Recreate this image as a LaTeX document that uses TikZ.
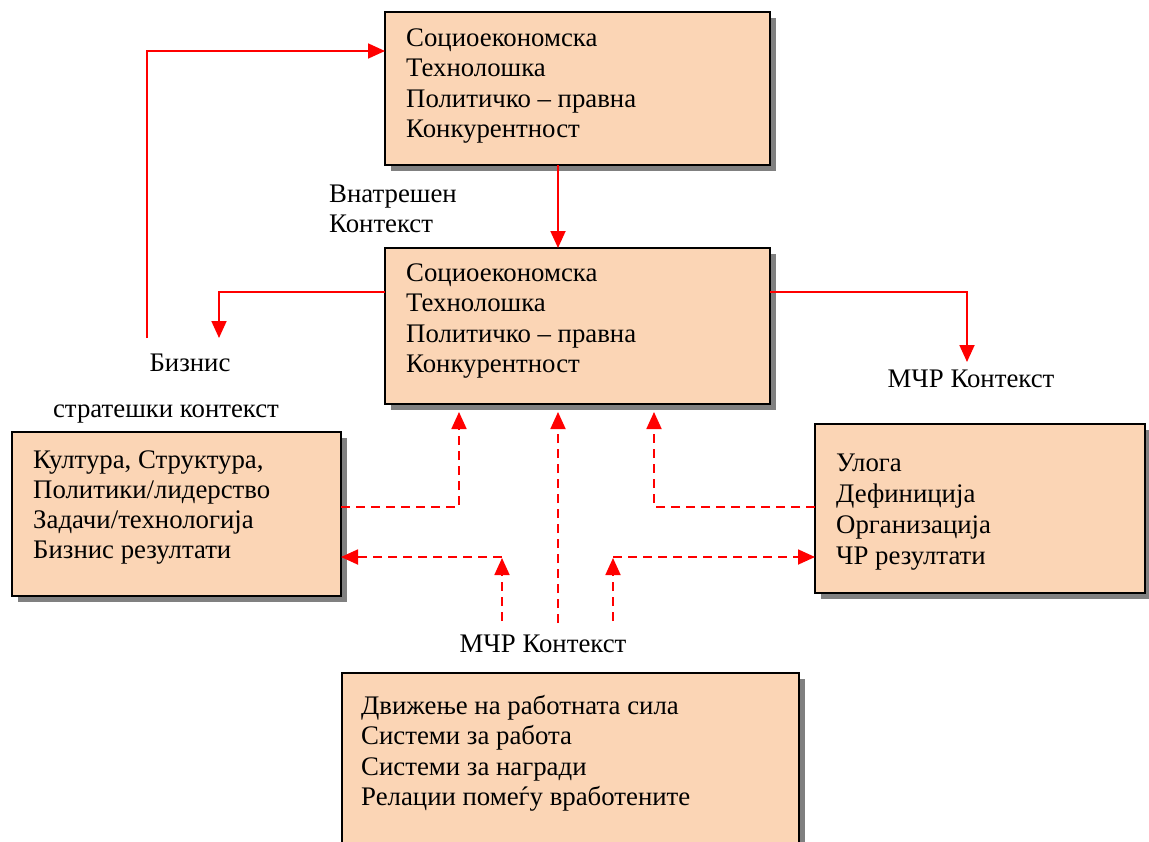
\documentclass[tikz,border=0pt]{standalone}
\usepackage{fontspec}
\setmainfont{Liberation Serif}
\usetikzlibrary{arrows.meta,shadows}
\definecolor{boxfill}{RGB}{251,213,181}
% stacked lines: the baseline of the whole block is the baseline of its first line
\newcommand\txtlines[2][30.5pt]{\vtop{\baselineskip=#1\lineskiplimit=-100pt\lineskip=0pt\halign{##\hfil\cr#2\crcr}}}
\tikzset{
  box/.style={draw=black, line width=2pt, fill=boxfill, inner sep=0pt, outer sep=0pt,
    anchor=north west,
    drop shadow={shadow xshift=6pt, shadow yshift=-6pt, fill=black!50, opacity=1}},
  txt/.style={inner sep=0pt, anchor=base west, font=\fontsize{26.8}{30.5}\selectfont},
  lbl/.style={inner sep=0pt, anchor=base, font=\fontsize{26.8}{30.5}\selectfont},
  link/.style={red, line width=1.8pt, -{Triangle[length=17pt,width=15pt]}},
  dlink/.style={link, dash pattern=on 9pt off 6pt}
}
\begin{document}
\begin{tikzpicture}[x=1pt,y=-1pt]
\useasboundingbox (0,0) rectangle (1149,841);
\clip (0,0) rectangle (1149,841);

% boxes
\node[box, minimum width=385pt, minimum height=153pt] (top) at (385,12) {};
\node[box, minimum width=385pt, minimum height=156pt] (mid) at (385,248) {};
\node[box, minimum width=329pt, minimum height=164pt] (lbox) at (12,432) {};
\node[box, minimum width=330pt, minimum height=169pt] (rbox) at (815,424) {};
\node[box, minimum width=457pt, minimum height=220pt] (bbox) at (342,673) {};

% box contents
\node[txt] (toptxt) at (406,46) {\txtlines{Социоекономска\cr Технолошка\cr Политичко – правна\cr Конкурентност}};
\node[txt] (midtxt) at (406,281) {\txtlines{Социоекономска\cr Технолошка\cr Политичко – правна\cr Конкурентност}};
\node[txt] (ltxt) at (33,468) {\txtlines[30pt]{Култура, Структура,\cr Политики/лидерство\cr Задачи/технологија\cr Бизнис резултати}};
\node[txt] (rtxt) at (836,471) {\txtlines[31pt]{Улога\cr Дефиниција\cr Организација\cr ЧР резултати}};
\node[txt] (btxt) at (361,714) {\txtlines{Движење на работната сила\cr Системи за работа\cr Системи за награди\cr Релации помеѓу вработените}};

% free labels
\node[txt] (inner) at (329,202) {\txtlines[30pt]{Внатрешен\cr Контекст}};
\node[lbl] (biz1) at (190,371) {Бизнис};
\node[lbl] (biz2) at (166,417) {стратешки контекст};
\node[lbl] (hrm1) at (971,387) {МЧР Контекст};
\node[lbl] (hrm2) at (543,652) {МЧР Контекст};

% connector end points
\coordinate (s1) at (147,338);
\coordinate (b3) at (219,338);
\coordinate (b4) at (967,362);
\coordinate (t1) at (459,412);
\coordinate (t2) at (558,412);
\coordinate (t3) at (654,412);
\coordinate (c2) at (558,623);
\coordinate (c4) at (502,621);
\coordinate (k4) at (502,557);
\coordinate (c5) at (613,621);
\coordinate (k5) at (613,557);

% solid connectors
\draw[link] (s1) |- (top.west |- 0,51);
\draw[link] (top.south -| 558,0) -- (mid.north -| 558,0);
\draw[link] (mid.west |- 0,292) -| (b3);
\draw[link] (mid.east |- 0,292) -| (b4);

% dashed connectors
\draw[dlink] (lbox.east |- 0,507) -| (t1);
\draw[dlink] (c2) -- (t2);
\draw[dlink] (rbox.west |- 0,507) -| (t3);
\draw[dlink, shorten >=1pt] (c4) -- (k4);
\draw[dlink] (k4) -- (lbox.east |- k4);
\draw[dlink, shorten >=1pt] (c5) -- (k5);
\draw[dlink] (k5) -- (rbox.west |- k5);
\end{tikzpicture}
\end{document}
